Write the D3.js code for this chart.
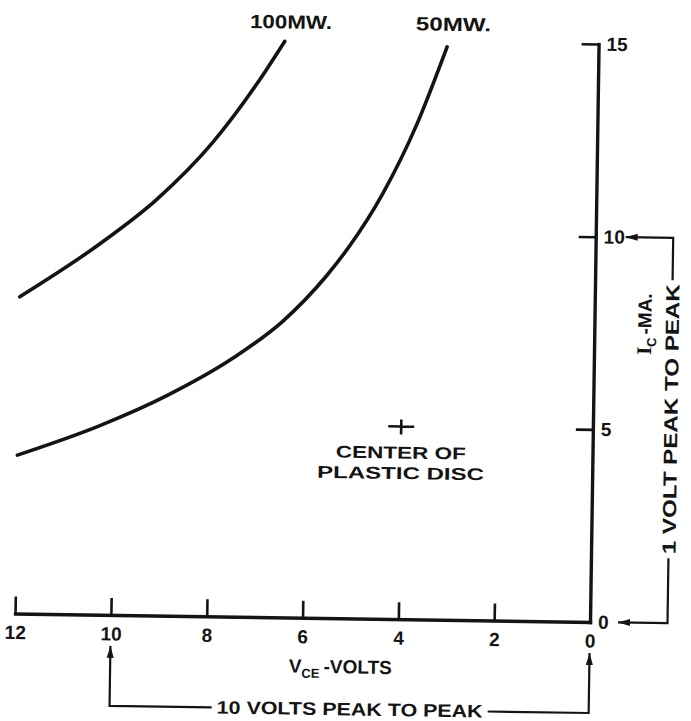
<!DOCTYPE html>
<html>
<head>
<meta charset="utf-8">
<script src="https://cdn.jsdelivr.net/npm/d3@7"></script>
<style>
  html, body { margin: 0; padding: 0; background: #fff; }
  svg { display: block; }
  text { font-family: "Liberation Sans", Arial, sans-serif; font-weight: bold; fill: #141414; }
</style>
</head>
<body>
<svg id="chart" width="691" height="721"></svg>
<script>
// Collector-emitter voltage (V) and collector current (mA) axes
const vceTicks = [12, 10, 8, 6, 4, 2, 0];
const icTicks = [0, 5, 10, 15];

// Constant dissipation curves: VCE in volts, IC in milliamps
const curve100V = [12.0, 10.35, 9.17, 8.02, 7.11, 6.55];
const curve100I = [8.22, 9.62, 10.8, 12.3, 13.85, 14.95];
const curve50V  = [12.0, 10.3, 8.9, 7.53, 6.5, 5.6, 5.13, 4.46, 3.77, 3.16];
const curve50I  = [4.11, 4.9, 5.71, 6.71, 7.69, 8.89, 9.67, 11.03, 12.84, 14.87];
const curveNames = ["100MW.", "50MW."];

// Operating point marked on the plot
const discPoint = [4, 5];
const discLabel = ["CENTER OF", "PLASTIC DISC"];

// Peak-to-peak swing brackets
const voltSwing = [10, 0];   // volts on the VCE axis
const currSwing = [10, 0];   // milliamps on the IC axis
const voltSwingLabel = "10 VOLTS PEAK TO PEAK";
const currSwingLabel = "1 VOLT PEAK TO PEAK";

const ink = "#141414";
const svg = d3.select("#chart");

const x = d3.scaleLinear().domain([12, 0]).range([15, 590]);
const y = d3.scaleLinear().domain([0, 15]).range([622, 44]);

// whole sheet sits slightly turned
const g = svg.append("g").attr("transform", `rotate(0.85, ${x(0)}, ${y(0)})`);

// arrowhead
svg.append("defs").append("marker")
  .attr("id", "arrow")
  .attr("viewBox", "0 0 12 8")
  .attr("refX", 12).attr("refY", 4)
  .attr("markerWidth", 12).attr("markerHeight", 8)
  .attr("markerUnits", "userSpaceOnUse")
  .attr("orient", "auto")
  .append("path").attr("d", "M0,0.5 L12,4 L0,7.5 Z").attr("fill", ink);

// X axis: ticks point up, labels below
const xAxis = g.append("g")
  .attr("transform", `translate(0,${y(0)})`)
  .call(d3.axisBottom(x).tickValues(vceTicks).tickSizeInner(-17).tickSizeOuter(0)
    .tickPadding(12).tickFormat(d3.format("d")));

// Y axis on the right: ticks point left, labels right
const yAxis = g.append("g")
  .attr("transform", `translate(${x(0)},0)`)
  .call(d3.axisRight(y).tickValues(icTicks).tickSizeInner(-17).tickSizeOuter(0)
    .tickPadding(8).tickFormat(d3.format("d")));

[xAxis, yAxis].forEach(a => {
  a.select(".domain").attr("stroke", ink).attr("stroke-width", 3.4).attr("stroke-linecap", "square");
  a.selectAll(".tick line").attr("stroke", ink).attr("stroke-width", 2.6);
  a.selectAll(".tick text").attr("fill", ink).style("font-size", "19px")
    .style("font-family", "\"Liberation Sans\", Arial, sans-serif").style("font-weight", "bold");
});

// Dissipation curves
const line = d3.line().x(d => x(d[0])).y(d => y(d[1])).curve(d3.curveMonotoneX);
const curves = [
  d3.zip(curve100V, curve100I),
  d3.zip(curve50V, curve50I)
];
g.selectAll("path.pcurve").data(curves).join("path")
  .attr("class", "pcurve")
  .attr("d", line)
  .attr("fill", "none").attr("stroke", ink).attr("stroke-width", 3.6)
  .attr("stroke-linecap", "round");

g.selectAll("text.clabel").data(curves).join("text")
  .attr("class", "clabel")
  .attr("x", d => x(d[d.length - 1][0]) + 6)
  .attr("y", y(15) - 11)
  .attr("text-anchor", "middle")
  .attr("textLength", (d, i) => i === 0 ? 82 : 75)
  .attr("lengthAdjust", "spacingAndGlyphs")
  .style("font-size", "19px")
  .text((d, i) => curveNames[i]);

// Disc centre marker
const px = x(discPoint[0]), py = y(discPoint[1]);
g.append("path")
  .attr("d", `M${px - 13},${py}H${px + 13}M${px},${py - 7}V${py + 8}`)
  .attr("stroke", ink).attr("stroke-width", 2.6).attr("fill", "none");
g.selectAll("text.disc").data(discLabel).join("text")
  .attr("class", "disc")
  .attr("x", px)
  .attr("y", (d, i) => py + 32 + i * 20.5)
  .attr("text-anchor", "middle")
  .attr("textLength", (d, i) => i === 0 ? 130 : 167)
  .attr("lengthAdjust", "spacingAndGlyphs")
  .style("font-size", "17px")
  .text(d => d);

// Axis titles
const xt = g.append("text")
  .attr("x", 341).attr("y", y(0) + 55)
  .attr("text-anchor", "middle")
  .style("font-size", "19px");
xt.append("tspan").text("V");
xt.append("tspan").attr("dy", 5).style("font-size", "13px").text("CE");
xt.append("tspan").attr("dy", -5).attr("dx", 4).text("-VOLTS");

const yt = g.append("text")
  .attr("transform", `translate(647,${y(7.75)}) rotate(-90)`)
  .attr("text-anchor", "middle")
  .style("font-size", "19px");
yt.append("tspan").style("font-family", "\"Liberation Serif\", serif").style("font-size", "21px").text("I");
yt.append("tspan").attr("dy", 5).style("font-size", "13px").text("C");
yt.append("tspan").attr("dy", -5).attr("dx", 3).text("-MA.");

// Current swing bracket on the right
const bx = 667.5;
const cMid = 418, cHalf = 135;
g.append("path")
  .attr("d", `M${bx},${cMid - cHalf - 4}V${y(currSwing[0])}H${x(0) + 30}`)
  .attr("fill", "none").attr("stroke", ink).attr("stroke-width", 2.2)
  .attr("marker-end", "url(#arrow)");
g.append("path")
  .attr("d", `M${bx},${cMid + cHalf + 4}V${y(currSwing[1])}H${x(0) + 28}`)
  .attr("fill", "none").attr("stroke", ink).attr("stroke-width", 2.2)
  .attr("marker-end", "url(#arrow)");
g.append("text")
  .attr("transform", `translate(${bx + 7},${cMid}) rotate(-90)`)
  .attr("text-anchor", "middle")
  .attr("textLength", cHalf * 2)
  .attr("lengthAdjust", "spacingAndGlyphs")
  .style("font-size", "19px")
  .text(currSwingLabel);

// Voltage swing bracket along the bottom
const by = 713, vMid = 351, vHalf = 133;
g.append("path")
  .attr("d", `M${vMid - vHalf - 5},${by}H${x(voltSwing[0])}V${y(0) + 31}`)
  .attr("fill", "none").attr("stroke", ink).attr("stroke-width", 2.2)
  .attr("marker-end", "url(#arrow)");
g.append("path")
  .attr("d", `M${vMid + vHalf + 5},${by}H${x(voltSwing[1])}V${y(0) + 31}`)
  .attr("fill", "none").attr("stroke", ink).attr("stroke-width", 2.2)
  .attr("marker-end", "url(#arrow)");
g.append("text")
  .attr("x", vMid).attr("y", by + 6)
  .attr("text-anchor", "middle")
  .attr("textLength", vHalf * 2)
  .attr("lengthAdjust", "spacingAndGlyphs")
  .style("font-size", "18px")
  .text(voltSwingLabel);
</script>
</body>
</html>
